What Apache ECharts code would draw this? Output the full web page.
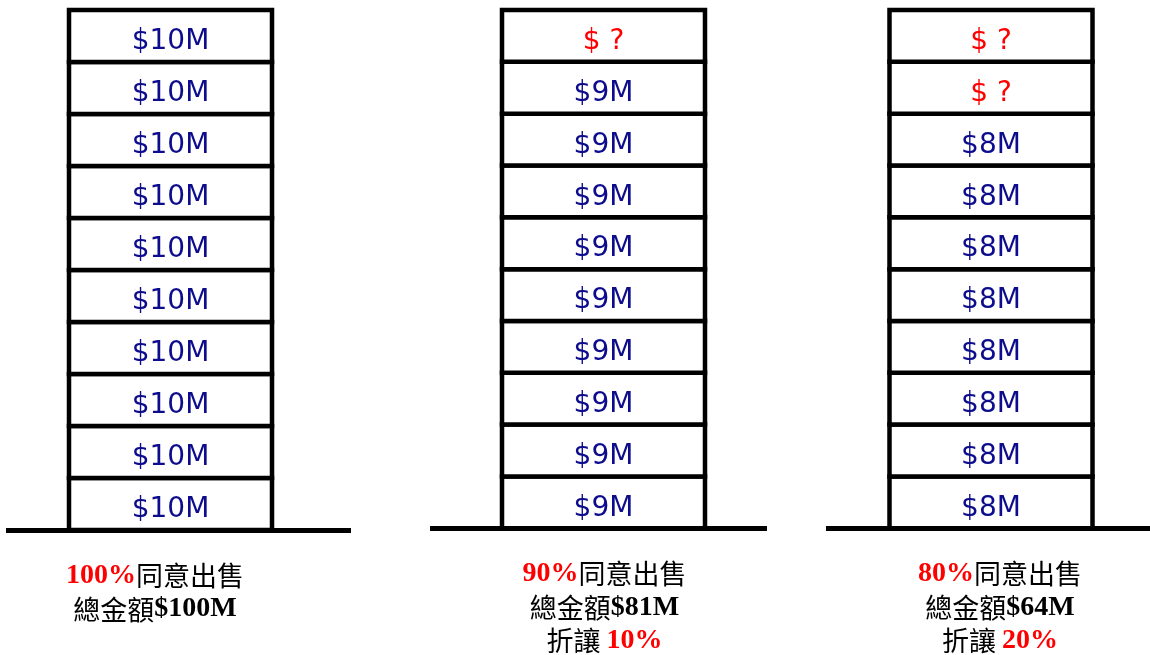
<!DOCTYPE html>
<html>
<head>
<meta charset="utf-8">
<script src="https://cdn.jsdelivr.net/npm/echarts@6/dist/echarts.min.js"></script>
<style>
html,body{margin:0;padding:0;background:#fff;}
#chart{width:1150px;height:655px;}
</style>
</head>
<body>
<div id="chart"></div>
<script>
// ---- data ----
const groups = ['100%', '90%', '80%'];
const totals = ['$100M', '$81M', '$64M'];
const discounts = ['', '10%', '20%'];
// floors listed bottom to top
const floorsA = ['$10M', '$10M', '$10M', '$10M', '$10M', '$10M', '$10M', '$10M', '$10M', '$10M'];
const floorsB = ['$9M', '$9M', '$9M', '$9M', '$9M', '$9M', '$9M', '$9M', '$9M', '$ ?'];
const floorsC = ['$8M', '$8M', '$8M', '$8M', '$8M', '$8M', '$8M', '$8M', '$ ?', '$ ?'];
const floors = [floorsA, floorsB, floorsC];
const floorCount = 10;

// ---- layout / style (not data) ----
const gridBoxes = [{left: 6, width: 345}, {left: 430, width: 337}, {left: 826, width: 324}];
const boxShift = [-8, 5, 3];
const labelPad = [[0, 47, 0, 0], [0, 0, 0, 12], [0, 0, 0, 24]];
const boxWidth = 203;
const navy = '#0c0c8c';
const red = '#ff0000';

const chart = echarts.init(document.getElementById('chart'));

const rich = {
  r: {color: red, fontFamily: '"Liberation Serif", serif', fontWeight: 'bold', fontSize: 28, lineHeight: 33.5},
  k: {color: '#000', fontFamily: '"Noto Sans CJK TC", sans-serif', fontSize: 27, lineHeight: 33.5},
  b: {color: '#000', fontFamily: '"Liberation Serif", serif', fontWeight: 'bold', fontSize: 28, lineHeight: 33.5}
};

function labelFor(i) {
  let s = '{r|' + groups[i] + '}{k|同意出售}\n{k|總金額}{b|' + totals[i] + '}';
  if (discounts[i]) s += '\n{k|折讓 }{r|' + discounts[i] + '}';
  return s;
}

const grid = [], xAxis = [], yAxis = [], series = [];
groups.forEach((g, i) => {
  grid.push({left: gridBoxes[i].left, width: gridBoxes[i].width, top: 10, height: 520});
  xAxis.push({
    type: 'category', gridIndex: i, data: [g],
    axisLine: {show: true, lineStyle: {color: '#000', width: 5, cap: 'butt'}},
    axisTick: {show: false},
    axisLabel: {
      show: true, margin: 29, padding: labelPad[i], align: 'center',
      formatter: () => labelFor(i), rich: rich
    },
    splitLine: {show: false}
  });
  yAxis.push({type: 'value', gridIndex: i, min: 0, max: floorCount, show: false});
  series.push({
    type: 'custom', xAxisIndex: i, yAxisIndex: i,
    data: floors[i].map((t, k) => [0, k]),
    encode: {x: 0, y: 1},
    z: 1,
    renderItem: function (params, api) {
      const lvl = api.value(1);
      const p0 = api.coord([api.value(0), lvl]);
      const p1 = api.coord([api.value(0), lvl + 1]);
      const xc = p0[0] + boxShift[i];
      const txt = floors[i][params.dataIndex];
      return {
        type: 'group',
        children: [
          {type: 'rect', shape: {x: xc - boxWidth / 2, y: p1[1], width: boxWidth, height: p0[1] - p1[1]},
           style: {fill: '#fff', stroke: '#000', lineWidth: 4.5}},
          {type: 'text', x: xc, y: (p0[1] + p1[1]) / 2 + 6,
           style: {text: txt, fill: txt.indexOf('?') >= 0 ? red : navy,
                   font: '28px "DejaVu Sans", sans-serif',
                   align: 'center', verticalAlign: 'middle'}}
        ]
      };
    }
  });
});

chart.setOption({
  animation: false,
  backgroundColor: '#fff',
  grid: grid, xAxis: xAxis, yAxis: yAxis, series: series
});
</script>
</body>
</html>
